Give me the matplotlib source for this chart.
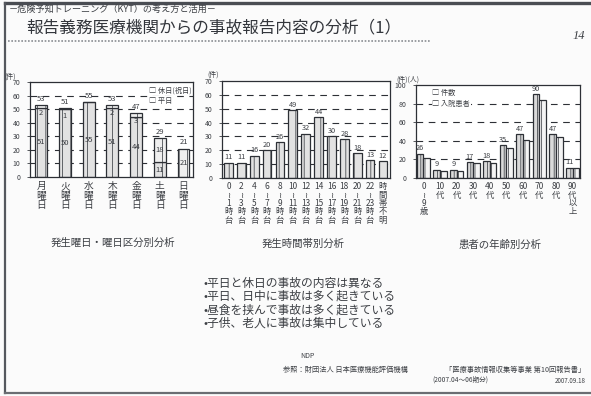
import matplotlib
matplotlib.use('Agg')
import matplotlib.pyplot as plt
from matplotlib.lines import Line2D

plt.rcParams['font.family'] = ['Noto Sans CJK JP', 'DejaVu Sans']
plt.rcParams['hatch.linewidth'] = 0.5
plt.rcParams['hatch.color'] = '#9a9a9a'

W, H = 591, 396
INK = '#3c3f44'

# --- data -------------------------------------------------------------
weekday_labels = ['月\n曜\n日', '火\n曜\n日', '水\n曜\n日', '木\n曜\n日',
                  '金\n曜\n日', '土\n曜\n日', '日\n曜\n日']
weekday_regular = [51, 50, 55, 51, 44, 11, 0]   # 平日
weekday_holiday = [2, 1, 0, 2, 3, 18, 21]       # 休日(祝日)

hour_labels = ['0\n≀\n1\n時\n台', '2\n≀\n3\n時\n台', '4\n≀\n5\n時\n台',
               '6\n≀\n7\n時\n台', '8\n≀\n9\n時\n台', '10\n≀\n11\n時\n台',
               '12\n≀\n13\n時\n台', '14\n≀\n15\n時\n台', '16\n≀\n17\n時\n台',
               '18\n≀\n19\n時\n台', '20\n≀\n21\n時\n台', '22\n≀\n23\n時\n台',
               '時\n間\n帯\n不\n明']
hour_counts = [11, 11, 16, 20, 26, 49, 32, 44, 30, 28, 18, 13, 12]

age_labels = ['0\n≀\n9\n歳', '10\n代', '20\n代', '30\n代', '40\n代',
              '50\n代', '60\n代', '70\n代', '80\n代', '90\n代\n以\n上']
age_counts = [26, 9, 9, 17, 18, 35, 47, 90, 47, 11]        # 件数
age_inpatients = [22, 8, 8, 16, 16, 32, 41, 84, 44, 11]    # 入院患者

bullets = ['•平日と休日の事故の内容は異なる',
           '•平日、日中に事故は多く起きている',
           '•昼食を挟んで事故は多く起きている',
           '•子供、老人に事故は集中している']

LEGEND_BOX = dict(facecolor='white', edgecolor='none', pad=0.6)


def px_axes(fig, left, top, right, bottom):
    return fig.add_axes([left / W, 1 - bottom / H,
                         (right - left) / W, (bottom - top) / H])


def style_axes(ax, ymax, ystep, grid_levels, label_size):
    ax.set_ylim(0, ymax)
    ax.set_yticks(range(0, ymax + 1, ystep))
    ax.tick_params(axis='y', labelsize=5, colors=INK, length=2, width=0.6,
                   pad=5)
    ax.tick_params(axis='x', length=0, labelsize=label_size, colors=INK, pad=3)
    for s in ax.spines.values():
        s.set_color('#2d3036')
        s.set_linewidth(0.9)
    for g in grid_levels:
        ax.axhline(g, color='#2d3036', lw=0.8, ls=(0, (6, 5)), zorder=0.5)
    for t in ax.get_xticklabels():
        t.set_linespacing(0.92)
        t.set_verticalalignment('top')


fig = plt.figure(figsize=(W / 100, H / 100), dpi=100)
fig.patch.set_facecolor('#fbfbfb')

# page layer in pixel coordinates
page = fig.add_axes([0, 0, 1, 1])
page.set_xlim(0, W)
page.set_ylim(H, 0)
page.axis('off')
page.add_line(Line2D([5, W], [3, 3], color='#4a4d53', lw=2.4))
page.add_line(Line2D([5, 5], [3, 393], color='#55585e', lw=1.6))
page.add_line(Line2D([5, W], [393, 393], color='#6a6d72', lw=1.6))
page.add_line(Line2D([8, 430], [41, 41], color='#8a8d92', lw=1.2,
                     ls=(0, (1, 1))))
page.text(9, 9, '－危険予知トレーニング（KYT）の考え方と活用－', fontsize=6.6,
          color=INK, va='center', ha='left')
page.text(26, 28, '報告義務医療機関からの事故報告内容の分析（1）', fontsize=12,
          color='#33363c', va='center', ha='left')
page.text(585, 36, '14', fontsize=9, color=INK, va='center', ha='right',
          family='Liberation Serif', style='italic')

page.text(113, 243, '発生曜日・曜日区分別分析', fontsize=7.5, color=INK,
          ha='center', va='center')
page.text(303, 244, '発生時間帯別分析', fontsize=7.5, color=INK,
          ha='center', va='center')
page.text(500, 245, '患者の年齢別分析', fontsize=7.5, color=INK,
          ha='center', va='center')

for i, line in enumerate(bullets):
    page.text(204, 283 + i * 13.5, line, fontsize=8.5, color=INK,
              ha='left', va='center')

page.text(300, 356, 'NDP', fontsize=5, color=INK, ha='left', va='center')
page.text(283, 370, '参照：財団法人 日本医療機能評価機構', fontsize=5.2,
          color=INK, ha='left', va='center')
page.text(585, 370, '「医療事故情報収集等事業 第10回報告書」', fontsize=5.2,
          color=INK, ha='right', va='center')
page.text(432, 380, '(2007.04〜06期分)', fontsize=4.8, color=INK,
          ha='left', va='center')
page.text(586, 381, '2007.09.18', fontsize=4.5, color=INK, ha='right',
          va='center')

# --- weekday chart ----------------------------------------------------
ax1 = px_axes(fig, 30, 82, 193, 177)
x1 = range(len(weekday_labels))
ax1.bar(x1, weekday_regular, width=0.5, facecolor='#e2e2e2',
        edgecolor='#2d3036', linewidth=0.9, hatch='||', zorder=2)
ax1.bar(x1, weekday_holiday, bottom=weekday_regular, width=0.5,
        facecolor='#efefef', edgecolor='#2d3036', linewidth=0.9,
        hatch='||', zorder=2)
for i, (r, h) in enumerate(zip(weekday_regular, weekday_holiday)):
    if r:
        ax1.text(i, r / 2, str(r), ha='center', va='center', fontsize=5.5,
                 color=INK, zorder=3)
    if h:
        # thin segments get their label just under the bar top
        hy = r + h / 2 if h >= 8 else r + h - 6
        ax1.text(i, hy, str(h), ha='center', va='center',
                 fontsize=5.5, color=INK, zorder=3)
    ax1.text(i, r + h + 1.5, str(r + h), ha='center', va='bottom',
             fontsize=5.5, color=INK, zorder=3)
ax1.set_xlim(-0.47, 6.4)
ax1.set_xticks(list(x1))
ax1.set_xticklabels(weekday_labels)
style_axes(ax1, 70, 10, range(10, 61, 10), 7)
ax1.text(-0.16, 1.02, '(件)', transform=ax1.transAxes, fontsize=5,
         color=INK, ha='left', va='bottom')
ax1.text(0.73, 0.91, '□ 休日(祝日)', transform=ax1.transAxes, fontsize=5.2,
         color=INK, ha='left', va='center', bbox=LEGEND_BOX, zorder=4)
ax1.text(0.73, 0.8, '□ 平日', transform=ax1.transAxes, fontsize=5.2,
         color=INK, ha='left', va='center', bbox=LEGEND_BOX, zorder=4)

# --- hour chart -------------------------------------------------------
ax2 = px_axes(fig, 222, 81, 390, 178)
x2 = range(len(hour_labels))
ax2.bar(x2, hour_counts, width=0.68, facecolor='#e2e2e2',
        edgecolor='#2d3036', linewidth=0.9, hatch='||', zorder=2)
for i, v in enumerate(hour_counts):
    ax2.text(i, v + 1, str(v), ha='center', va='bottom', fontsize=5.3,
             color=INK, zorder=3)
ax2.set_xlim(-0.5, 12.55)
ax2.set_xticks(list(x2))
ax2.set_xticklabels(hour_labels)
style_axes(ax2, 70, 10, range(10, 61, 10), 6)
ax2.text(-0.09, 1.02, '(件)', transform=ax2.transAxes, fontsize=5,
         color=INK, ha='left', va='bottom')

# --- age chart --------------------------------------------------------
ax3 = px_axes(fig, 416, 85, 580, 178)
x3 = list(range(len(age_labels)))
bw = 0.4
ax3.bar([x - bw / 2 for x in x3], age_counts, width=bw, facecolor='#dadada',
        edgecolor='#2d3036', linewidth=0.9, hatch='||', zorder=2)
ax3.bar([x + bw / 2 for x in x3], age_inpatients, width=bw,
        facecolor='#f4f4f4', edgecolor='#2d3036', linewidth=0.9,
        hatch='|', zorder=2)
for x, v in zip(x3, age_counts):
    ax3.text(x - bw / 2, v + 1.5, str(v), ha='center', va='bottom',
             fontsize=5.3, color=INK, zorder=3)
ax3.set_xlim(-0.45, 9.45)
ax3.set_xticks(x3)
ax3.set_xticklabels(age_labels)
style_axes(ax3, 100, 20, range(20, 81, 20), 6)
ax3.text(-0.12, 1.02, '(件)(人)', transform=ax3.transAxes, fontsize=5,
         color=INK, ha='left', va='bottom')
ax3.text(0.1, 0.91, '□ 件数', transform=ax3.transAxes, fontsize=5.2,
         color=INK, ha='left', va='center', bbox=LEGEND_BOX, zorder=4)
ax3.text(0.1, 0.8, '□ 入院患者', transform=ax3.transAxes, fontsize=5.2,
         color=INK, ha='left', va='center', bbox=LEGEND_BOX, zorder=4)

fig.savefig('out.png', dpi=100, facecolor=fig.get_facecolor())
